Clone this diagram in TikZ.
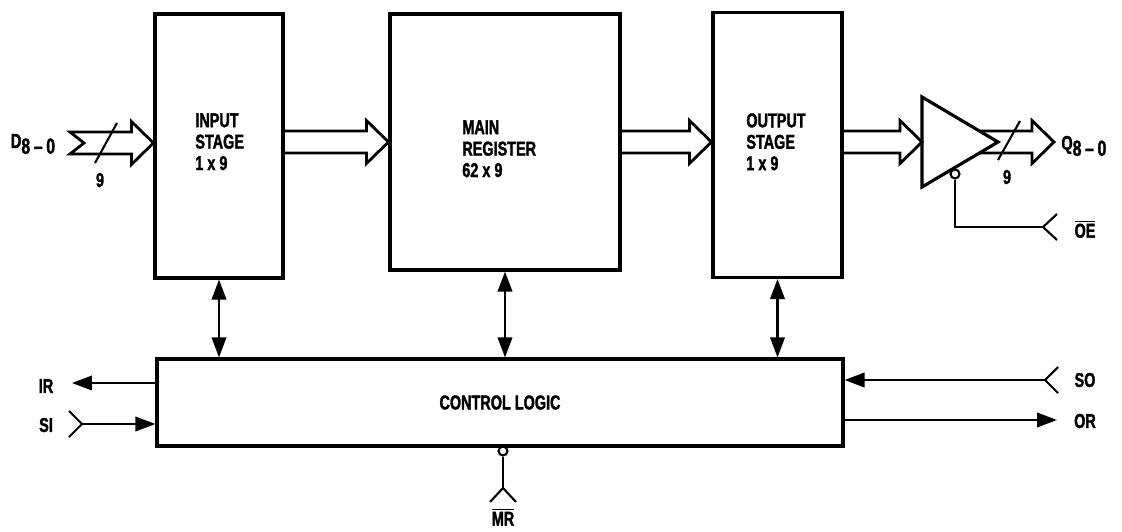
\documentclass[tikz,border=0pt]{standalone}
\usepackage{fontspec}
\setmainfont{Liberation Sans}[FakeStretch=0.72, BoldFeatures={FakeBold=1.6}]
\usetikzlibrary{arrows.meta,calc}

\tikzset{
  blk/.style={draw, line width=1.8pt, inner sep=0pt},
  sig/.style={line width=1.2pt, -{Triangle[length=4mm,width=2.9mm]}},
  bidir/.style={line width=1.2pt, {Triangle[length=4mm,width=2.9mm]}-{Triangle[length=4mm,width=2.9mm]}},
  wire/.style={line width=1.2pt},
  bus/.style={line width=1.6pt, line join=miter},
  bubble/.style={circle, draw, line width=1.2pt, inner sep=0pt, minimum size=0.18cm},
  lbl/.style={font=\bfseries\fontsize{11.4}{12.2}\selectfont, inner sep=0pt}
}

% hollow bus arrow from #1 to #2 (same height)
\newcommand{\busarrow}[2]{%
  \draw[bus] let \p1=(#1), \p2=(#2) in
    (\x1,\y1+0.22cm) -- (\x2-0.44cm,\y1+0.22cm) -- (\x2-0.44cm,\y1+0.43cm)
    -- (\x2,\y1) -- (\x2-0.44cm,\y1-0.43cm) -- (\x2-0.44cm,\y1-0.22cm) -- (\x1,\y1-0.22cm);}

\begin{document}
\begin{tikzpicture}[x=0.02cm, y=-0.02cm]
	\useasboundingbox (0,0) rectangle (1122,531);

	% blocks
	\node[blk, minimum width=2.56cm, minimum height=5.28cm] (in) at (219,146) {};
	\node[blk, minimum width=4.6cm, minimum height=5.12cm] (reg) at (505,142) {};
	\node[blk, minimum width=2.58cm, minimum height=5.3cm] (out) at (777.5,145) {};
	\node[blk, lbl, minimum width=13.72cm, minimum height=1.74cm] (ctl) at (500,402.5) {CONTROL LOGIC};

	\node[lbl, align=left, anchor=north west] (intxt) at (195,113) {INPUT\\STAGE\\1 x 9};
	\node[lbl, align=left, anchor=north west] (regtxt) at (462,120) {MAIN\\REGISTER\\62 x 9};
	\node[lbl, align=left, anchor=north west] (outtxt) at (746,113) {OUTPUT\\STAGE\\1 x 9};

	% data input bus
	\coordinate (dtail) at (70,143);
	\draw[bus] let \p1=(dtail), \p2=(in.west |- dtail) in
		(\x1,\y1+0.22cm) -- (\x2-0.44cm,\y1+0.22cm) -- (\x2-0.44cm,\y1+0.43cm)
		-- (\x2,\y1) -- (\x2-0.44cm,\y1-0.43cm) -- (\x2-0.44cm,\y1-0.22cm)
		-- (\x1,\y1-0.22cm) -- (\x1+0.28cm,\y1) -- cycle;
	\draw[wire] (95,163) -- (117,123);
	\node[lbl] (dnine) at (100,180) {9};
	\node[lbl] (dlbl) at (33,144) {{\fontsize{11.5}{11}\selectfont D}\raisebox{-0.55ex}{\fontsize{12.5}{12}\selectfont 8\,–\,0}};

	% buses between stages
	\busarrow{in.east |- reg.west}{reg.west}
	\busarrow{reg.east}{out.west |- reg.east}

	% output buffer
	\coordinate (buf) at (922,142);
	\draw[line width=1.8pt] (buf) ++(0,-45) -- ++(76,45) coordinate (buftip) -- ++(-76,45) -- cycle;
	\busarrow{out.east |- buf}{buf}
	\coordinate (bufout) at (979,142);
	\coordinate (qtip) at (1054,142);
	\busarrow{bufout}{qtip}
	\draw[wire] (998,160) -- (1020,121);
	\node[lbl] (qnine) at (1007,177) {9};
	\node[lbl, anchor=west] (qlbl) at (1061,146) {{\fontsize{11.5}{11}\selectfont Q}\raisebox{-0.55ex}{\fontsize{12.5}{12}\selectfont 8\,–\,0}};

	% output enable
	\node[bubble] (oebub) at (955,174) {};
	\coordinate (oepin) at (1043,227);
	\draw[wire] (oebub.south) |- (oepin);
	\draw[wire] (oepin) ++(14,-13) -- (oepin) -- ++(14,13);
	\node[lbl] (oelbl) at (1085,229) {$\overline{\mbox{OE}}$};

	% stages to control logic
	\draw[bidir] (in.south) -- (in.south |- ctl.north);
	\draw[bidir] (reg.south) -- (reg.south |- ctl.north);
	\draw[bidir] (out.south) -- (out.south |- ctl.north);

	% control signals
	\coordinate (irpin) at (72,383);
	\draw[sig] (ctl.west |- irpin) -- (irpin);
	\node[lbl] (irlbl) at (46,386) {IR};

	\coordinate (sipin) at (82,424);
	\draw[sig] (sipin) -- (sipin -| ctl.west);
	\draw[wire] (sipin) ++(-13,-13) -- (sipin) -- ++(-13,13);
	\node[lbl] (silbl) at (46,425) {SI};

	\coordinate (sopin) at (1045,380);
	\draw[sig] (sopin) -- (sopin -| ctl.east);
	\draw[wire] (sopin) ++(13,-13) -- (sopin) -- ++(13,13);
	\node[lbl] (solbl) at (1085,380) {SO};

	\coordinate (orpin) at (1057,420);
	\draw[sig] (orpin -| ctl.east) -- (orpin);
	\node[lbl] (orlbl) at (1085,421) {OR};

	% master reset
	\node[bubble] (mrbub) at (503,451) {};
	\coordinate (mrpin) at (503,488);
	\draw[wire] (mrbub.south) -- (mrpin);
	\draw[wire] (mrpin) ++(-13,14) -- (mrpin) -- ++(13,14);
	\node[lbl] (mrlbl) at (503,517) {$\overline{\mbox{MR}}$};
\end{tikzpicture}
\end{document}
